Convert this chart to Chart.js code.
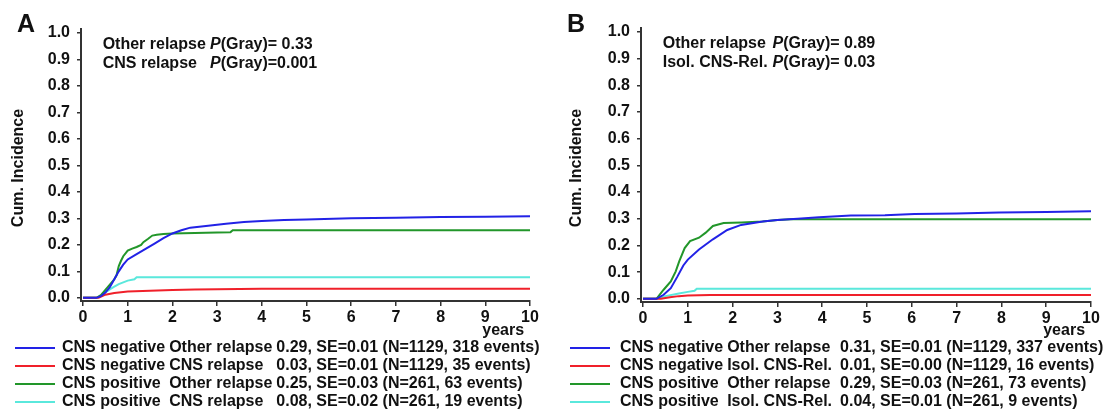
<!DOCTYPE html>
<html>
<head>
<meta charset="utf-8">
<script src="https://cdn.jsdelivr.net/npm/chart.js@4.4.0/dist/chart.umd.min.js"></script>
<style>
  body { margin: 0; background: #fff; }
  #wrap { position: relative; width: 1104px; height: 412px; }
  .panel { position: absolute; top: 0; width: 552px; height: 412px; }
</style>
</head>
<body>
<div id="wrap">
  <div class="panel" style="left:0"><canvas id="chartA"></canvas></div>
  <div class="panel" style="left:552px"><canvas id="chartB"></canvas></div>
</div>
<script>
// ---- data (years, cumulative incidence) ----
const yTicks = [0, 0.1, 0.2, 0.3, 0.4, 0.5, 0.6, 0.7, 0.8, 0.9, 1.0];
const xTicks = [0, 1, 2, 3, 4, 5, 6, 7, 8, 9, 10];

// panel A
const tA_negOther = [0, 0.3, 0.4, 0.5, 0.6, 0.7, 0.8, 0.9, 1.0, 1.2, 1.4, 1.6, 1.8, 2.0, 2.2, 2.4, 2.8, 3.2, 3.6, 4.0, 4.5, 5.0, 6.0, 7.0, 8.0, 9.0, 10.0];
const vA_negOther = [0, 0, 0.006, 0.02, 0.04, 0.07, 0.1, 0.125, 0.145, 0.165, 0.185, 0.205, 0.225, 0.243, 0.255, 0.265, 0.272, 0.28, 0.286, 0.29, 0.294, 0.296, 0.3, 0.302, 0.305, 0.306, 0.308];
const tA_negCNS = [0, 0.35, 0.5, 0.7, 0.9, 1.0, 1.5, 2.0, 2.5, 3.0, 4.0, 10.0];
const vA_negCNS = [0, 0, 0.012, 0.018, 0.022, 0.024, 0.027, 0.03, 0.031, 0.032, 0.034, 0.034];
const tA_posOther = [0, 0.3, 0.4, 0.5, 0.6, 0.7, 0.75, 0.8, 0.85, 0.9, 1.0, 1.1, 1.2, 1.3, 1.35, 1.45, 1.55, 1.65, 1.8, 2.0, 2.5, 3.0, 3.3, 3.35, 10.0];
const vA_posOther = [0, 0, 0.01, 0.03, 0.05, 0.07, 0.085, 0.12, 0.14, 0.157, 0.178, 0.186, 0.192, 0.2, 0.21, 0.222, 0.235, 0.238, 0.241, 0.243, 0.245, 0.247, 0.248, 0.255, 0.255];
const tA_posCNS = [0, 0.3, 0.4, 0.5, 0.6, 0.7, 0.8, 1.0, 1.15, 1.2, 10.0];
const vA_posCNS = [0, 0, 0.008, 0.02, 0.032, 0.042, 0.052, 0.065, 0.07, 0.078, 0.078];

// panel B
const tB_negOther = [0, 0.3, 0.46, 0.62, 0.77, 0.9, 1.0, 1.25, 1.56, 1.88, 2.19, 2.67, 3.0, 3.45, 3.93, 4.64, 5.4, 6.06, 7.0, 7.95, 9.0, 10.0];
const vB_negOther = [0, 0, 0.015, 0.04, 0.084, 0.125, 0.147, 0.185, 0.223, 0.258, 0.277, 0.29, 0.295, 0.3, 0.306, 0.312, 0.313, 0.318, 0.32, 0.323, 0.325, 0.328];
const tB_negIsol = [0, 0.4, 0.6, 0.8, 1.0, 1.5, 10.0];
const vB_negIsol = [0, 0, 0.006, 0.01, 0.012, 0.014, 0.014];
const tB_posOther = [0, 0.3, 0.46, 0.62, 0.73, 0.81, 0.93, 1.05, 1.25, 1.4, 1.56, 1.8, 2.2, 2.67, 3.0, 3.3, 10.0];
const vB_posOther = [0, 0, 0.034, 0.065, 0.103, 0.141, 0.19, 0.216, 0.229, 0.248, 0.273, 0.284, 0.286, 0.29, 0.295, 0.298, 0.298];
const tB_posIsol = [0, 0.3, 0.5, 0.8, 1.0, 1.15, 1.2, 10.0];
const vB_posIsol = [0, 0, 0.01, 0.02, 0.026, 0.03, 0.038, 0.038];

// legend / annotation texts
const legendGroup = ['CNS negative', 'CNS negative', 'CNS positive', 'CNS positive'];
const legendA_event = ['Other relapse', 'CNS relapse', 'Other relapse', 'CNS relapse'];
const legendA_stat = ['0.29, SE=0.01 (N=1129, 318 events)', '0.03, SE=0.01 (N=1129, 35 events)', '0.25, SE=0.03 (N=261, 63 events)', '0.08, SE=0.02 (N=261, 19 events)'];
const legendB_event = ['Other relapse', 'Isol. CNS-Rel.', 'Other relapse', 'Isol. CNS-Rel.'];
const legendB_stat = ['0.31, SE=0.01 (N=1129, 337 events)', '0.01, SE=0.00 (N=1129, 16 events)', '0.29, SE=0.03 (N=261, 73 events)', '0.04, SE=0.01 (N=261, 9 events)'];
const annotA_label = ['Other relapse', 'CNS relapse'];
const annotA_p = ['= 0.33', '=0.001'];
const annotB_label = ['Other relapse', 'Isol. CNS-Rel.'];
const annotB_p = ['= 0.89', '= 0.03'];

const colors = ['#2222e6', '#f0202a', '#22962a', '#5ae8dc'];
const FONT = '"Liberation Sans", Arial, sans-serif';

function pts(t, v) { return t.map((x, i) => ({ x: x, y: v[i] })); }

function makeChart(id, p) {
  const deco = {
    id: 'deco',
    afterDraw(chart) {
      const ctx = chart.ctx;
      const xs = chart.scales.x, ys = chart.scales.y;
      ctx.save();
      ctx.fillStyle = '#111';
      // panel letter
      ctx.font = 'bold 25px ' + FONT;
      ctx.textBaseline = 'alphabetic';
      ctx.textAlign = 'left';
      ctx.fillText(p.letter, p.letterX, 32);
      // y title
      ctx.save();
      ctx.translate(p.titleX, 168);
      ctx.rotate(-Math.PI / 2);
      ctx.font = 'bold 16px ' + FONT;
      ctx.textAlign = 'center';
      ctx.textBaseline = 'middle';
      ctx.fillText('Cum. Incidence', 0, 0);
      ctx.restore();
      // years
      ctx.font = 'bold 16px ' + FONT;
      ctx.textAlign = 'center';
      ctx.textBaseline = 'middle';
      ctx.fillText('years', xs.getPixelForValue(9.4), 331);
      // p-value annotation
      ctx.textAlign = 'left';
      const ax = xs.getPixelForValue(p.annotX), px = xs.getPixelForValue(p.annotP);
      p.annotLabel.forEach((lab, i) => {
        const y = ys.getPixelForValue(0.956 - i * 0.072);
        ctx.font = 'bold 16px ' + FONT;
        ctx.fillText(lab, ax, y);
        ctx.font = 'italic bold 16px ' + FONT;
        ctx.fillText('P', px, y);
        const w = ctx.measureText('P').width;
        ctx.font = 'bold 16px ' + FONT;
        ctx.fillText('(Gray)' + p.annotP_val[i], px + w, y);
      });
      // legend
      ctx.font = 'bold 16px ' + FONT;
      const w1 = Math.max(...legendGroup.map(s => ctx.measureText(s).width));
      const w2 = Math.max(...p.legEvent.map(s => ctx.measureText(s).width));
      const c2 = p.legText + w1 + 4, c3 = c2 + w2 + p.gap;
      legendGroup.forEach((g, i) => {
        const y = 348 + i * 18;
        ctx.strokeStyle = colors[i];
        ctx.lineWidth = 2;
        ctx.beginPath();
        ctx.moveTo(p.legLine[0], y);
        ctx.lineTo(p.legLine[1], y);
        ctx.stroke();
        ctx.fillStyle = '#111';
        ctx.fillText(g, p.legText, y);
        ctx.fillText(p.legEvent[i], c2, y);
        ctx.fillText(p.legStat[i], c3, y);
      });
      ctx.restore();
    }
  };

  return new Chart(document.getElementById(id), {
    type: 'line',
    data: {
      datasets: p.series.map((s, i) => ({
        data: pts(s[0], s[1]),
        borderColor: colors[i],
        borderWidth: 2,
        pointRadius: 0,
        fill: false,
        tension: 0
      }))
    },
    options: {
      responsive: true,
      maintainAspectRatio: false,
      animation: false,
      layout: { padding: { left: 0, top: p.top, right: p.right, bottom: 111 - 30 - (301 - p.bottom) } },
      plugins: { legend: { display: false }, tooltip: { enabled: false } },
      scales: {
        x: {
          type: 'linear', min: -0.045, max: 10,
          afterBuildTicks: s => { s.ticks = xTicks.map(v => ({ value: v })); },
          afterFit: s => { s.height = 30; },
          ticks: { color: '#111', font: { family: FONT, size: 16, weight: 'bold' }, padding: 2, maxRotation: 0,
                   callback: v => String(v) },
          grid: { drawOnChartArea: false, drawTicks: true, tickLength: 5, color: '#333', lineWidth: 1.5 },
          border: { display: true, color: '#333', width: 2 }
        },
        y: {
          min: -0.012, max: 1.015,
          afterBuildTicks: s => { s.ticks = yTicks.map(v => ({ value: v })); },
          afterFit: s => { s.width = p.left; },
          ticks: { color: '#111', font: { family: FONT, size: 16, weight: 'bold' }, padding: 7,
                   callback: v => v.toFixed(1) },
          grid: { drawOnChartArea: false, drawTicks: true, tickLength: 4, color: '#333', lineWidth: 1.5 },
          border: { display: true, color: '#333', width: 2 }
        }
      }
    },
    plugins: [deco]
  });
}

makeChart('chartA', {
  letter: 'A', letterX: 17, titleX: 19, left: 81, right: 22, top: 29, bottom: 301,
  series: [[tA_negOther, vA_negOther], [tA_negCNS, vA_negCNS], [tA_posOther, vA_posOther], [tA_posCNS, vA_posCNS]],
  annotLabel: annotA_label, annotP_val: annotA_p, annotX: 0.44, annotP: 2.84,
  legEvent: legendA_event, legStat: legendA_stat, legLine: [15, 55], legText: 62, gap: 4
});
makeChart('chartB', {
  letter: 'B', letterX: 15, titleX: 25, left: 89, right: 13, top: 28, bottom: 300,
  series: [[tB_negOther, vB_negOther], [tB_negIsol, vB_negIsol], [tB_posOther, vB_posOther], [tB_posIsol, vB_posIsol]],
  annotLabel: annotB_label, annotP_val: annotB_p, annotX: 0.44, annotP: 2.89,
  legEvent: legendB_event, legStat: legendB_stat, legLine: [18, 58], legText: 68, gap: 8
});
</script>
</body>
</html>
